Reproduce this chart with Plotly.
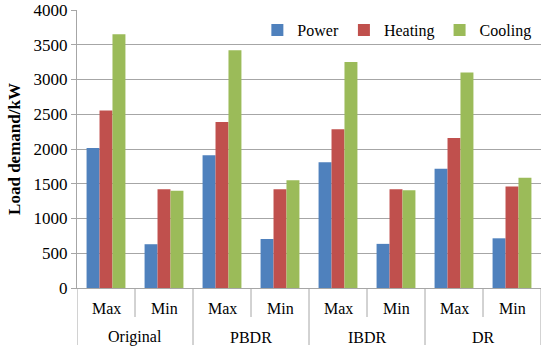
import plotly.graph_objects as go

groups = ["Original", "PBDR", "IBDR", "DR"]
subs = ["Max", "Min"]
power = [2015, 630, 1910, 705, 1810, 635, 1715, 715]
heating = [2555, 1420, 2390, 1420, 2285, 1420, 2160, 1460]
cooling = [3650, 1400, 3420, 1550, 3250, 1405, 3100, 1585]

keys = [f"{g} {s}" for g in groups for s in subs]
colors = {"Power": "#4F81BD", "Heating": "#C0504D", "Cooling": "#9BBB59"}
font = "Liberation Serif"
axis_col = "#A6A6A6"

fig = go.Figure()
for name, vals in [("Power", power), ("Heating", heating), ("Cooling", cooling)]:
    fig.add_trace(go.Bar(x=keys, y=vals, name=name,
                         marker=dict(color=colors[name], line=dict(width=0))))

plot_h = 278.0
annotations = []
shapes = []
for i, k in enumerate(keys):
    annotations.append(dict(x=i, xref="x", y=-20 / plot_h, yref="paper",
                            text=k.split(" ")[-1], showarrow=False,
                            font=dict(family=font, size=16, color="black"),
                            xanchor="center", yanchor="middle"))
for j, g in enumerate(groups):
    annotations.append(dict(x=2 * j + 0.5, xref="x", y=-49 / plot_h, yref="paper",
                            text=g, showarrow=False,
                            font=dict(family=font, size=16, color="black"),
                            xanchor="center", yanchor="middle"))
for b in range(len(keys) + 1):
    pos = b - 0.5
    long = (b % 2 == 0)
    shapes.append(dict(type="line", xref="x", yref="paper", x0=pos, x1=pos,
                       y0=0, y1=(-57 if long else -29) / plot_h,
                       line=dict(color=axis_col, width=1)))

fig.update_layout(
    width=550, height=357,
    margin=dict(l=77, r=9, t=10, b=69, autoexpand=False),
    paper_bgcolor="white", plot_bgcolor="white",
    barmode="group", bargap=0.33, bargroupgap=0,
    font=dict(family=font, size=16, color="black"),
    legend=dict(orientation="h", x=0.99, xanchor="right", y=0.928, yanchor="middle",
                font=dict(family=font, size=16), bgcolor="rgba(0,0,0,0)",
                tracegroupgap=0),
    showlegend=True,
    annotations=annotations,
    shapes=shapes,
)
fig.update_yaxes(range=[0, 4000], dtick=500, showgrid=True, gridcolor=axis_col,
                 gridwidth=1, showline=True, linecolor=axis_col, ticks="outside",
                 ticklen=5, tickcolor=axis_col, zeroline=False, automargin=False,
                 ticklabeloverflow="allow",
                 tickfont=dict(family=font, size=17),
                 title=dict(text="<b>Load demand/kW</b>", font=dict(family=font, size=17), standoff=8))
fig.update_xaxes(type="category", range=[-0.5, 7.5], showline=True, linecolor=axis_col,
                 showticklabels=False, ticks="", automargin=False)

fig.write_html("out.html", config={"displayModeBar": False},
               post_script="document.body.style.margin='0';")
